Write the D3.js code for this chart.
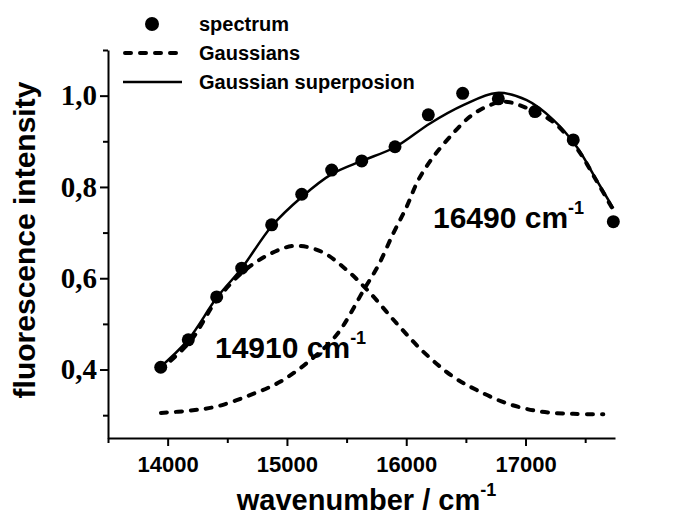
<!DOCTYPE html>
<html><head><meta charset="utf-8">
<script src="https://cdn.jsdelivr.net/npm/d3@7"></script>
<style>html,body{margin:0;padding:0;background:#fff;} svg{display:block;}</style>
</head><body>
<svg id="chart" width="677" height="520"></svg>
<script>
// ---- data ----
const spectrumWavenumber = [13942, 14173, 14411, 14621, 14872, 15124, 15375, 15627, 15906, 16185, 16473, 16772, 17079, 17400, 17736];
const spectrumIntensity  = [0.405, 0.465, 0.559, 0.622, 0.717, 0.784, 0.837, 0.857, 0.888, 0.958, 1.005, 0.993, 0.965, 0.903, 0.724];

const gauss1Wavenumber = [13930, 14187, 14411, 14632, 14872, 15067, 15291, 15501, 15696, 15920, 16143, 16394, 16591, 16842, 17121, 17400, 17652];
const gauss1Intensity  = [0.398, 0.461, 0.552, 0.614, 0.655, 0.671, 0.658, 0.618, 0.568, 0.501, 0.439, 0.384, 0.355, 0.326, 0.308, 0.303, 0.302];

const gauss2Wavenumber = [13944, 14187, 14411, 14690, 14942, 15193, 15417, 15654, 15766, 15891, 16004, 16101, 16227, 16381, 16534, 16674, 16813, 16981, 17233, 17429, 17596, 17736];
const gauss2Intensity  = [0.305, 0.310, 0.319, 0.344, 0.373, 0.420, 0.476, 0.579, 0.628, 0.698, 0.757, 0.815, 0.866, 0.914, 0.954, 0.976, 0.987, 0.976, 0.942, 0.885, 0.813, 0.749];

const sumWavenumber = [13911, 14171, 14411, 14621, 14872, 15124, 15375, 15627, 15906, 16199, 16478, 16758, 17010, 17233, 17429, 17596, 17736];
const sumIntensity  = [0.399, 0.465, 0.557, 0.622, 0.714, 0.778, 0.828, 0.857, 0.887, 0.939, 0.979, 1.006, 0.990, 0.947, 0.888, 0.815, 0.753];

const xMajorTicks = [14000, 15000, 16000, 17000];
const xMinorTicks = [13500, 14500, 15500, 16500, 17500];
const yMajorTicks = [0.4, 0.6, 0.8, 1.0];
const yMinorTicks = [0.3, 0.5, 0.7, 0.9, 1.1];
const yTickLabels = ["0,4", "0,6", "0,8", "1,0"];
const legendLabels = ["spectrum", "Gaussians", "Gaussian superposion"];
const peakLabels = ["14910 cm", "16490 cm"];
const peakAnchorWavenumber = [14397, 16224];
const peakAnchorIntensity = [0.425, 0.710];

// ---- drawing ----
const svg = d3.select("#chart");
const SANS = "'Liberation Sans', Arial, Helvetica, sans-serif";
const SERIF = "'Liberation Serif', 'Times New Roman', serif";

const x = d3.scaleLinear().domain([13500, 17750]).range([108, 615]);
const y = d3.scaleLinear().domain([0.25, 1.1]).range([438, 50]);

// axes
const yAxis = svg.append("g").attr("transform", `translate(${x.range()[0]},0)`)
  .call(d3.axisLeft(y).tickValues(yMajorTicks).tickSize(8).tickSizeOuter(0)
        .tickFormat((d, i) => yTickLabels[i]));
svg.append("g").attr("transform", `translate(${x.range()[0]},0)`)
  .call(d3.axisLeft(y).tickValues(yMinorTicks).tickSize(5).tickSizeOuter(0).tickFormat(""))
  .select(".domain").remove();
const xAxis = svg.append("g").attr("transform", `translate(0,${y.range()[0]})`)
  .call(d3.axisBottom(x).tickValues(xMajorTicks).tickSize(8).tickSizeOuter(0).tickFormat(d3.format("d")));
svg.append("g").attr("transform", `translate(0,${y.range()[0]})`)
  .call(d3.axisBottom(x).tickValues(xMinorTicks).tickSize(5).tickSizeOuter(0).tickFormat(""))
  .select(".domain").remove();

svg.selectAll(".domain").attr("stroke", "#000").attr("stroke-width", 2);
svg.selectAll(".tick line").attr("stroke", "#000").attr("stroke-width", 2);
yAxis.selectAll(".tick text").attr("font-family", SERIF).attr("font-weight", "bold")
  .attr("font-size", 29).attr("fill", "#000").attr("x", -11);
xAxis.selectAll(".tick text").attr("font-family", SANS).attr("font-weight", "bold")
  .attr("font-size", 22).attr("fill", "#000").attr("dy", "1.05em");

// axis titles
svg.append("text")
  .attr("transform", `translate(35,${(y.range()[0] + y.range()[1]) / 2 - 4}) rotate(-90)`)
  .attr("text-anchor", "middle").attr("font-family", SANS).attr("font-weight", "bold")
  .attr("font-size", 30).text("fluorescence intensity");
const xt = svg.append("text")
  .attr("x", (x.range()[0] + x.range()[1]) / 2 + 5).attr("y", 510)
  .attr("text-anchor", "middle").attr("font-family", SANS).attr("font-weight", "bold")
  .attr("font-size", 29);
xt.append("tspan").text("wavenumber / cm");
xt.append("tspan").attr("font-size", 18).attr("dy", -14).text("-1");

// curves
const line = d3.line().x(d => x(d[0])).y(d => y(d[1])).curve(d3.curveCatmullRom.alpha(0.5));
const zip = (a, b) => a.map((v, i) => [v, b[i]]);

svg.append("path").datum(zip(gauss1Wavenumber, gauss1Intensity)).attr("d", line)
  .attr("fill", "none").attr("stroke", "#000").attr("stroke-width", 4)
  .attr("stroke-dasharray", "6,9").attr("stroke-linecap", "round");
svg.append("path").datum(zip(gauss2Wavenumber, gauss2Intensity)).attr("d", line)
  .attr("fill", "none").attr("stroke", "#000").attr("stroke-width", 4)
  .attr("stroke-dasharray", "6,9").attr("stroke-linecap", "round");
svg.append("path").datum(zip(sumWavenumber, sumIntensity)).attr("d", line)
  .attr("fill", "none").attr("stroke", "#000").attr("stroke-width", 2.5);

svg.append("g").selectAll("circle").data(zip(spectrumWavenumber, spectrumIntensity)).join("circle")
  .attr("cx", d => x(d[0])).attr("cy", d => y(d[1])).attr("r", 6.5).attr("fill", "#000");

// peak annotations
peakLabels.forEach((lab, i) => {
  const t = svg.append("text").attr("x", x(peakAnchorWavenumber[i])).attr("y", y(peakAnchorIntensity[i]))
    .attr("font-family", SANS).attr("font-weight", "bold").attr("font-size", 30).attr("fill", "#000");
  t.append("tspan").text(lab);
  t.append("tspan").attr("font-size", 18).attr("dy", -14).text("-1");
});

// legend
const lg = svg.append("g");
const rows = [24, 53, 82];
lg.append("circle").attr("cx", 152).attr("cy", rows[0]).attr("r", 7).attr("fill", "#000");
lg.append("line").attr("x1", 125).attr("x2", 181).attr("y1", rows[1]).attr("y2", rows[1])
  .attr("stroke", "#000").attr("stroke-width", 4).attr("stroke-dasharray", "6,9").attr("stroke-linecap", "round");
lg.append("line").attr("x1", 123).attr("x2", 182).attr("y1", rows[2]).attr("y2", rows[2])
  .attr("stroke", "#000").attr("stroke-width", 2.5);
legendLabels.forEach((l, i) => {
  lg.append("text").attr("x", 199).attr("y", rows[i]).attr("dy", "0.35em")
    .attr("font-family", SANS).attr("font-weight", "bold").attr("font-size", 20).text(l);
});
</script>
</body></html>
